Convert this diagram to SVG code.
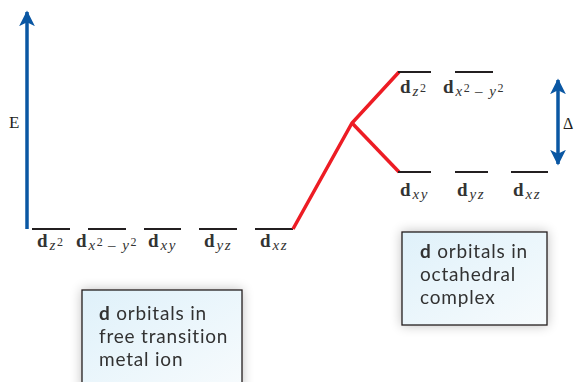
<svg xmlns="http://www.w3.org/2000/svg" width="577" height="382" viewBox="0 0 577 382">
<defs>
<linearGradient id="bg" x1="0" y1="0" x2="1" y2="1">
<stop offset="0" stop-color="#dff1fa"/>
<stop offset="1" stop-color="#f7fbfd"/>
</linearGradient>
<filter id="sh" x="-20%" y="-20%" width="140%" height="140%">
<feGaussianBlur in="SourceAlpha" stdDeviation="6"/>
<feComponentTransfer><feFuncA type="linear" slope="0.25"/></feComponentTransfer>
<feMerge><feMergeNode/><feMergeNode in="SourceGraphic"/></feMerge>
</filter>
<marker id="ah" viewBox="0 0 10 10" refX="9" refY="5" markerWidth="4.5" markerHeight="4.5" orient="auto-start-reverse" markerUnits="strokeWidth">
<path d="M0,0 L10,5 L0,10 L2.5,5 Z" fill="#0a57a3"/>
</marker>
<style>
.lvl{stroke:#231f20;stroke-width:2.2;fill:none}
.red{stroke:#ed1c24;stroke-width:3.5;fill:none;stroke-linejoin:miter}
.blue{stroke:#0a57a3;stroke-width:3.5;fill:none}
.lab{font-family:"Liberation Serif",serif;font-size:19px;fill:#333}
.d{font-weight:bold}
.sub{font-style:italic;font-size:15px;letter-spacing:1.5px}
.sup{font-size:12px}
.box{fill:url(#bg);stroke:#231f20;stroke-width:1.3}
.bt{font-family:Lato,"Open Sans",sans-serif;font-size:19px;letter-spacing:0.8px;fill:#333}
</style>
</defs>

<g id="energy-axis">
<line class="blue" x1="27" y1="229" x2="27" y2="12" marker-end="url(#ah)"/>
<text x="9" y="128" font-family="Liberation Serif,serif" font-size="17" fill="#231f20">E</text>
</g>

<g id="free-ion-levels">
<line class="lvl" x1="32" y1="229" x2="70" y2="229"/>
<line class="lvl" x1="88" y1="229" x2="126" y2="229"/>
<line class="lvl" x1="144" y1="229" x2="181" y2="229"/>
<line class="lvl" x1="199" y1="229" x2="237" y2="229"/>
<line class="lvl" x1="255" y1="229" x2="293" y2="229"/>
<text class="lab" x="37" y="247"><tspan class="d">d</tspan><tspan class="sub" dx="2" dy="3">z</tspan><tspan class="sup" dy="-4">2</tspan></text>
<text class="lab" x="76" y="247"><tspan class="d">d</tspan><tspan class="sub" dx="2" dy="3">x</tspan><tspan class="sup" dy="-4">2</tspan><tspan class="sub" dy="4"> – y</tspan><tspan class="sup" dy="-4">2</tspan></text>
<text class="lab" x="148" y="247"><tspan class="d">d</tspan><tspan class="sub" dx="2" dy="3">xy</tspan></text>
<text class="lab" x="204" y="247"><tspan class="d">d</tspan><tspan class="sub" dx="2" dy="3">yz</tspan></text>
<text class="lab" x="260" y="247"><tspan class="d">d</tspan><tspan class="sub" dx="2" dy="3">xz</tspan></text>
</g>

<g id="connectors">
<polyline class="red" points="293,229 352,123 399,72"/>
<line class="red" x1="352" y1="123" x2="399" y2="172"/>
</g>

<g id="octahedral-eg">
<line class="lvl" x1="398" y1="72" x2="431" y2="72"/>
<line class="lvl" x1="455" y1="72" x2="493" y2="72"/>
<text class="lab" x="400" y="93"><tspan class="d">d</tspan><tspan class="sub" dx="2" dy="3">z</tspan><tspan class="sup" dy="-4">2</tspan></text>
<text class="lab" x="443" y="93"><tspan class="d">d</tspan><tspan class="sub" dx="2" dy="3">x</tspan><tspan class="sup" dy="-4">2</tspan><tspan class="sub" dy="4"> – y</tspan><tspan class="sup" dy="-4">2</tspan></text>
</g>

<g id="octahedral-t2g">
<line class="lvl" x1="398" y1="172" x2="431" y2="172"/>
<line class="lvl" x1="455" y1="172" x2="488" y2="172"/>
<line class="lvl" x1="511" y1="172" x2="548" y2="172"/>
<text class="lab" x="400" y="196"><tspan class="d">d</tspan><tspan class="sub" dx="2" dy="3">xy</tspan></text>
<text class="lab" x="457" y="196"><tspan class="d">d</tspan><tspan class="sub" dx="2" dy="3">yz</tspan></text>
<text class="lab" x="513" y="196"><tspan class="d">d</tspan><tspan class="sub" dx="2" dy="3">xz</tspan></text>
</g>

<g id="delta-arrow">
<line class="blue" x1="558" y1="80" x2="558" y2="164" marker-start="url(#ah)" marker-end="url(#ah)"/>
<text x="563" y="129" font-family="Liberation Serif,serif" font-size="16" fill="#231f20">Δ</text>
</g>

<g id="box-free-ion" filter="url(#sh)">
<rect class="box" x="82" y="290" width="160" height="100"/>
<text class="bt" x="99" y="320"><tspan font-weight="bold">d</tspan> orbitals in</text>
<text class="bt" x="99" y="343">free transition</text>
<text class="bt" x="99" y="366">metal ion</text>
</g>

<g id="box-octahedral" filter="url(#sh)">
<rect class="box" x="402" y="232" width="145" height="93"/>
<text class="bt" x="420" y="258"><tspan font-weight="bold">d</tspan> orbitals in</text>
<text class="bt" x="420" y="281">octahedral</text>
<text class="bt" x="420" y="304">complex</text>
</g>
</svg>
